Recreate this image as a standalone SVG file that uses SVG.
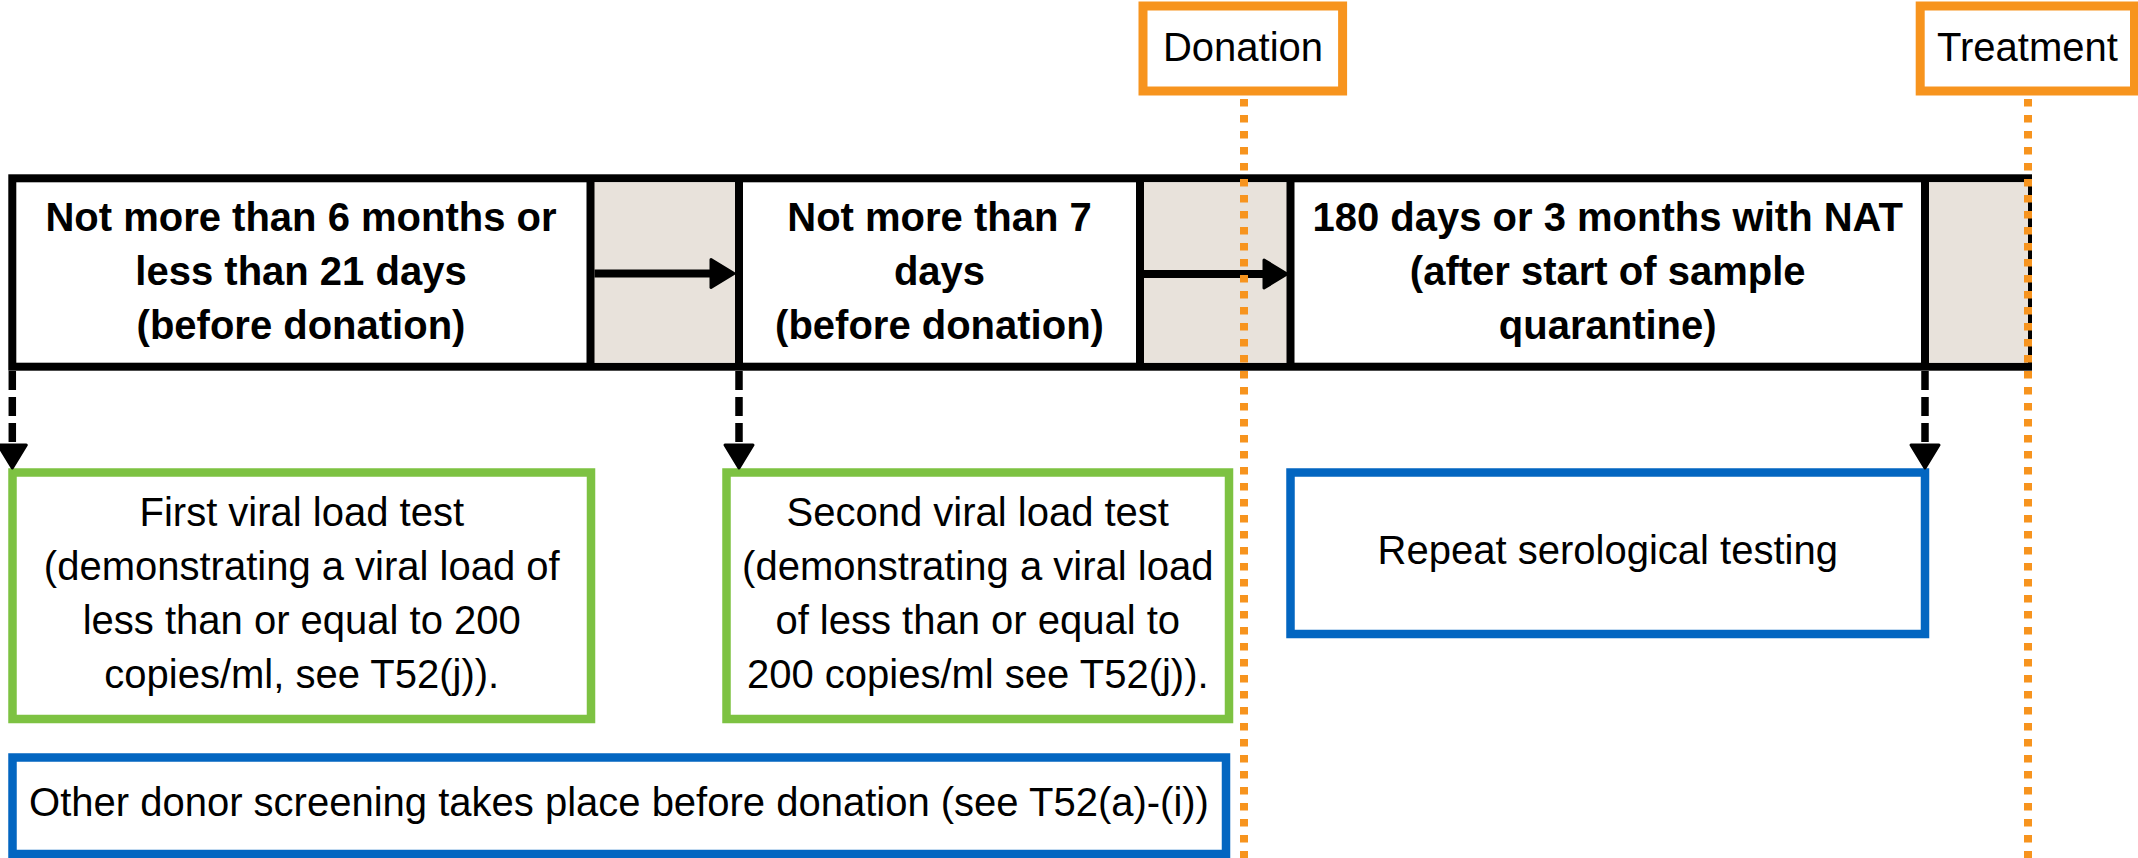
<svg xmlns="http://www.w3.org/2000/svg" width="2138" height="858" viewBox="0 0 2138 858">
<style>
text{font-family:"Liberation Sans",Arial,sans-serif;font-size:40px;fill:#000;text-anchor:middle}
.b{font-weight:bold}
.bar{fill:#fff;stroke:#000;stroke-width:8}
.gray{fill:#E8E2DB;stroke:none}
.div{stroke:#000;stroke-width:8}
.green{fill:#fff;stroke:#7DC242;stroke-width:8.5}
.blue{fill:#fff;stroke:#0366C1;stroke-width:8.5}
.orange{fill:#fff;stroke:#F7941E;stroke-width:9}
.dot{stroke:#F7941E;stroke-width:8;stroke-dasharray:7.5 8.5;fill:none}
.arr{stroke:#000;stroke-width:8;fill:none}
.darr{stroke:#000;stroke-width:7.5;stroke-dasharray:19 7;fill:none}
</style>
<defs>
<marker id="ah" markerUnits="userSpaceOnUse" viewBox="-2 -18 30 36" markerWidth="30" markerHeight="36" refX="2" refY="0" orient="auto">
<path d="M0,-14 L23,0 L0,14 Z" fill="#000" stroke="#000" stroke-width="3" stroke-linejoin="round"/>
</marker>
</defs>

<g id="timeline-bar">
<rect class="bar" x="12.3" y="178.3" width="2015.7" height="188.4"/>
<rect class="gray" x="590.5" y="182.3" width="148.5" height="180.4"/>
<rect class="gray" x="1140" y="182.3" width="150.5" height="180.4"/>
<rect class="gray" x="1925" y="182.3" width="103" height="180.4"/>
<line class="div" x1="590.5" y1="178.3" x2="590.5" y2="366.7"/>
<line class="div" x1="739" y1="178.3" x2="739" y2="366.7"/>
<line class="div" x1="1140" y1="178.3" x2="1140" y2="366.7"/>
<line class="div" x1="1290.5" y1="178.3" x2="1290.5" y2="366.7"/>
<line class="div" x1="1925" y1="178.3" x2="1925" y2="366.7"/>
</g>

<g id="period1">
<text class="b" x="301" y="231">Not more than 6 months or</text>
<text class="b" x="301" y="285">less than 21 days</text>
<text class="b" x="301" y="339">(before donation)</text>
</g>
<g id="period2">
<text class="b" x="939.5" y="231">Not more than 7</text>
<text class="b" x="939.5" y="285">days</text>
<text class="b" x="939.5" y="339">(before donation)</text>
</g>
<g id="period3">
<text class="b" x="1607.7" y="231">180 days or 3 months with NAT</text>
<text class="b" x="1607.7" y="285">(after start of sample</text>
<text class="b" x="1607.7" y="339">quarantine)</text>
</g>

<g id="donation">
<rect class="orange" x="1143" y="6" width="199.6" height="85"/>
<text x="1243" y="61">Donation</text>
</g>
<g id="treatment">
<rect class="orange" x="1920.2" y="6" width="214.3" height="85"/>
<text x="2027.5" y="61">Treatment</text>
</g>

<g id="first-test">
<rect class="green" x="12.5" y="472.5" width="578.5" height="246.5"/>
<text x="301.75" y="526">First viral load test</text>
<text x="301.75" y="580">(demonstrating a viral load of</text>
<text x="301.75" y="634">less than or equal to 200</text>
<text x="301.75" y="688">copies/ml, see T52(j)).</text>
</g>
<g id="second-test">
<rect class="green" x="726.5" y="472.5" width="502.5" height="246.5"/>
<text x="977.75" y="526">Second viral load test</text>
<text x="977.75" y="580">(demonstrating a viral load</text>
<text x="977.75" y="634">of less than or equal to</text>
<text x="977.75" y="688">200 copies/ml see T52(j)).</text>
</g>
<g id="repeat-serology">
<rect class="blue" x="1290.5" y="472.5" width="634.5" height="161.5"/>
<text x="1607.75" y="564">Repeat serological testing</text>
</g>
<g id="other-screening">
<rect class="blue" x="12.5" y="757.5" width="1213.5" height="96.5"/>
<text x="619" y="816">Other donor screening takes place before donation (see T52(a)-(i))</text>
</g>

<g id="connectors">
<line class="arr" x1="594.5" y1="273.5" x2="713" y2="273.5" marker-end="url(#ah)"/>
<line class="arr" x1="1144" y1="274" x2="1266" y2="274" marker-end="url(#ah)"/>
<line class="darr" x1="12.3" y1="371" x2="12.3" y2="447" marker-end="url(#ah)"/>
<line class="darr" x1="739" y1="371" x2="739" y2="447" marker-end="url(#ah)"/>
<line class="darr" x1="1925" y1="371" x2="1925" y2="447" marker-end="url(#ah)"/>
<line class="dot" x1="1244" y1="99" x2="1244" y2="858"/>
<line class="dot" x1="2028" y1="99" x2="2028" y2="858"/>
</g>
</svg>
